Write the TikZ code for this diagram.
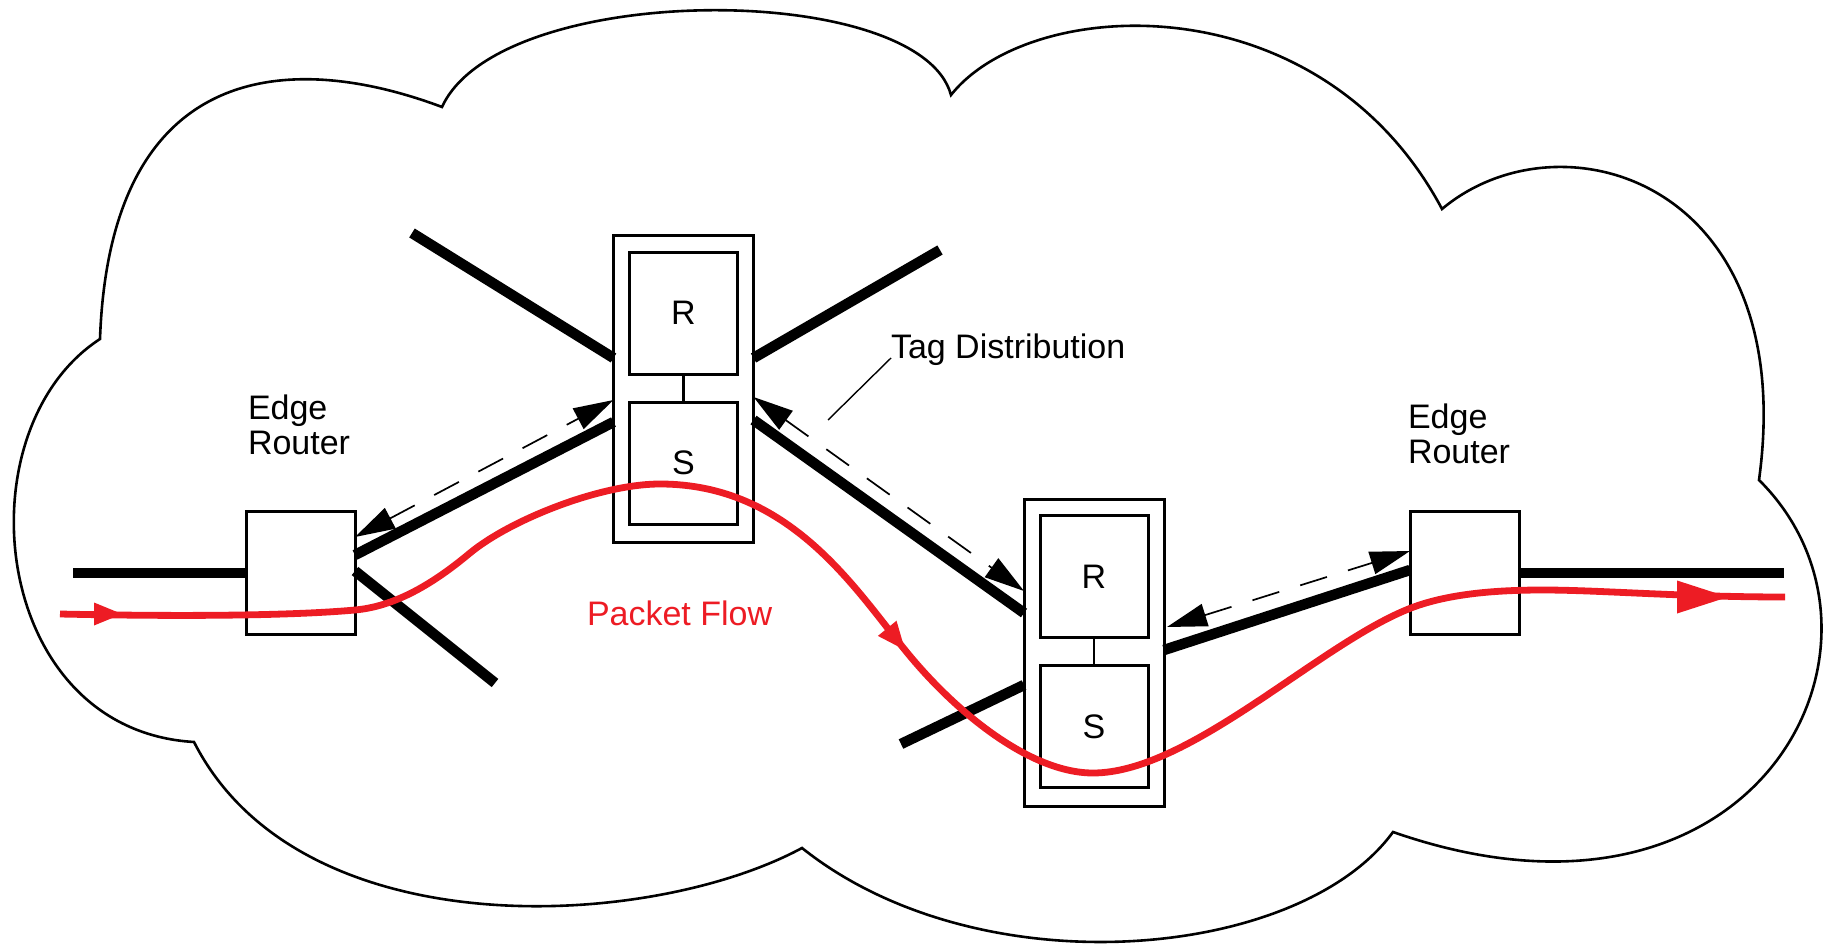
\documentclass[tikz,border=0pt]{standalone}
\usepackage{fontspec}
\setmainfont{Liberation Sans}
\usetikzlibrary{arrows.meta}
\definecolor{flowred}{RGB}{237,28,36}

\begin{document}
\begin{tikzpicture}[x=1pt,y=-1pt,
  every node/.style={inner sep=0pt, outer sep=0pt},
  label text/.style={font=\fontsize{34}{34.5}\selectfont, align=left},
  outer box/.style={draw, line width=3pt, minimum width=140pt, minimum height=307pt},
  inner box/.style={draw, line width=3pt, minimum width=108pt, minimum height=122pt,
    font=\fontsize{34}{34.5}\selectfont},
  edge box/.style={draw, line width=3pt, minimum width=109pt, minimum height=123pt},
  link/.style={line width=10.5pt},
  signal/.style={line width=1.7pt, dash pattern=on 28pt off 22pt,
    {Triangle[length=40pt,width=23pt]}-{Triangle[length=40pt,width=23pt]}},
  flow/.style={flowred, line width=6.8pt},
  cloudline/.style={line width=2.6pt},
]
% canvas
\fill[white] (0,0) rectangle (1823,952);
\useasboundingbox (0,0) rectangle (1823,952);

% network cloud
\draw[cloudline] (100,339)
  .. controls (110,60) and (290,50) .. (442,107)
  .. controls (500,-20) and (920,-20) .. (951,95)
  .. controls (1030,-5) and (1320,-20) .. (1442,209)
  .. controls (1560,110) and (1800,180) .. (1759,480)
  .. controls (1920,640) and (1760,960) .. (1393,832)
  .. controls (1300,960) and (980,990) .. (802,848)
  .. controls (650,930) and (300,950) .. (194,742)
  .. controls (-10,730) and (-40,430) .. cycle;

% core routers (routing + switching parts)
\node[outer box] (c1) at (683.5,389) {};
\node[inner box] (c1r) at (683.5,313) {R};
\node[inner box] (c1s) at (683.5,463) {S};
\draw[line width=2.6pt] (c1r.south) -- (c1s.north);

\node[outer box] (c2) at (1094,652.5) {};
\node[inner box] (c2r) at (1094,576.5) {R};
\node[inner box] (c2s) at (1094,726.5) {S};
\draw[line width=2pt] (c2r.south) -- (c2s.north);

% edge routers
\node[edge box] (e1) at (300.5,573) {};
\node[edge box] (e2) at (1464.5,573) {};

% loose ends of the links
\coordinate (l1) at (412,233);
\coordinate (l2) at (940,250);
\coordinate (l5) at (495,683);
\coordinate (l6) at (901,744);
\coordinate (w0) at (73,573);
\coordinate (w1) at (1784,573);

% links
\draw[link] (l1) -- ([yshift=31pt]c1.west);
\draw[link] ([yshift=31pt]c1.east) -- (l2);
\draw[link] ([yshift=18pt]e1.east) -- ([yshift=-33pt]c1.west);
\draw[link] ([yshift=-31pt]c1.east) -- ([yshift=39.5pt]c2.west);
\draw[link] ([yshift=2pt]e1.east) -- (l5);
\draw[link] ([yshift=-32.5pt]c2.west) -- (l6);
\draw[link] ([yshift=2.5pt]c2.east) -- ([yshift=3pt]e2.west);
\draw[link] (w0) -- (e1.west);
\draw[link] (e2.east) -- (w1);

% tag distribution exchanges
\draw[signal] ([yshift=36pt]e1.east) -- ([yshift=-11pt]c1.west);
\draw[signal] ([yshift=-8pt]c1.east) -- ([yshift=61.5pt]c2.west);
\draw[signal] ([yshift=25.5pt,xshift=3pt]c2.east) -- ([yshift=22pt]e2.west);

% labels (base = baseline of the last line)
\node[label text, anchor=base west] (er1) at (248,454) {Edge\\Router};
\node[label text, anchor=base west] (er2) at (1408,463) {Edge\\Router};
\node[label text, anchor=base west] (tag) at (891,358) {Tag Distribution};
\coordinate (tagfoot) at (828,420);
\draw[line width=1.4pt] (tag.base west) -- (tagfoot);
\node[label text, text=flowred, anchor=base west] (pf) at (587,625) {Packet Flow};

% packet flow
\coordinate (fin) at (60,614);
\coordinate (fout) at (1785,597);
\draw[flow] (fin)
  .. controls (200,617) and (300,615) .. (355,610)
  .. controls (400,606) and (440,578) .. (470,553)
  .. controls (510,520) and (600,484) .. (660,484)
  .. controls (790,484) and (855,589) .. (905,650)
  .. controls (955,712) and (1030,773) .. (1093,773)
  .. controls (1190,773) and (1320,643) .. (1411,608)
  .. controls (1450,593) and (1500,590) .. (1543,590)
  .. controls (1600,590) and (1680,597) .. (fout);
\fill[flowred] (122,614) -- (94,602.5) -- (94,625.5) -- cycle;
\fill[flowred] (905,650) -- (877.9,635.9) -- (896.5,620.7) -- cycle;
\fill[flowred] (1728,597) -- (1677,580.5) -- (1677,613.5) -- cycle;
\end{tikzpicture}
\end{document}
